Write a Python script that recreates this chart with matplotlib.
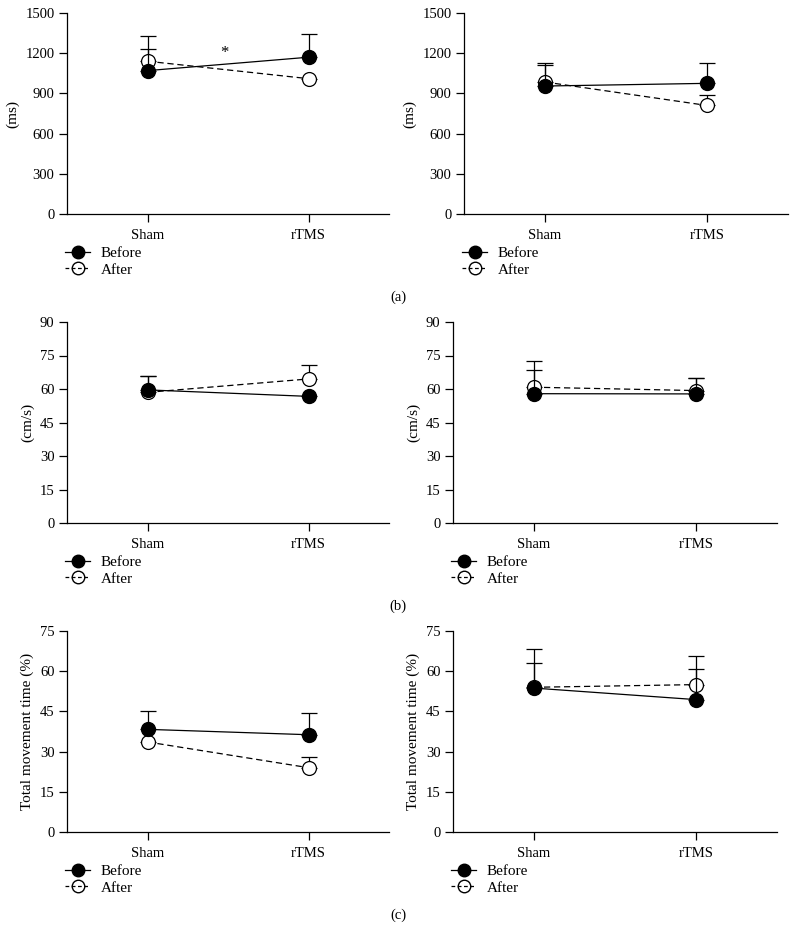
import numpy as np
import matplotlib
matplotlib.use("Agg")
import matplotlib.pyplot as plt
from matplotlib.lines import Line2D

plt.rcParams['font.family'] = ['Liberation Serif', 'DejaVu Serif']

# -------------------------
# Data
# -------------------------
groups = ["Sham", "rTMS"]

# (a) left / right  -- ms
a_left_before = [1070, 1170]
a_left_before_err = [165, 175]
a_left_after = [1140, 1010]
a_left_after_err = [190, np.nan]

a_right_before = [955, 975]
a_right_before_err = [175, 150]
a_right_after = [985, 810]
a_right_after_err = [130, 75]

# (b) left / right  -- cm/s
b_left_before = [59.6, 56.7]
b_left_before_err = [6.2, np.nan]
b_left_after = [58.5, 64.5]
b_left_after_err = [7.3, 6.4]

b_right_before = [57.9, 57.8]
b_right_before_err = [10.5, 7.1]
b_right_after = [60.8, 59.3]
b_right_after_err = [11.6, 5.6]

# (c) left / right  -- % total movement time
c_left_before = [38.3, 36.3]
c_left_before_err = [6.9, 8.0]
c_left_after = [33.6, 24.0]
c_left_after_err = [np.nan, 4.0]

c_right_before = [53.7, 49.4]
c_right_before_err = [14.4, 16.3]
c_right_after = [54.0, 55.0]
c_right_after_err = [9.1, 5.7]

# -------------------------
# Figure layout (pixel based)
# -------------------------
W, H = 797, 930
fig = plt.figure(figsize=(W / 100, H / 100), dpi=100)

DASH = (0, (5, 3))
MS = 10


def px_axes(left, top, right, bottom):
    return fig.add_axes([left / W, 1 - bottom / H, (right - left) / W, (bottom - top) / H])


def draw_panel(ax, before, before_err, after, after_err, ymax, step, ylabel):
    x = np.arange(len(groups))
    zero = np.zeros(len(groups))

    ax.errorbar(x, after, yerr=[zero, after_err], color='black', linestyle=DASH,
                linewidth=0.9, marker='o', markersize=MS, markerfacecolor='white',
                markeredgecolor='black', markeredgewidth=0.9, capsize=5.5,
                elinewidth=0.9, capthick=0.9, zorder=2)
    ax.errorbar(x, before, yerr=[zero, before_err], color='black', linestyle='-',
                linewidth=0.9, marker='o', markersize=MS, markerfacecolor='black',
                markeredgecolor='black', capsize=5.5, elinewidth=0.9, capthick=0.9,
                zorder=3)

    ax.set_xlim(-0.5, 1.5)
    ax.set_ylim(0, ymax)
    ax.set_yticks(np.arange(0, ymax + step / 2, step))
    ax.set_xticks(x)
    ax.set_xticklabels(groups)
    ax.set_ylabel(ylabel, fontsize=11)

    for s in ['top', 'right']:
        ax.spines[s].set_visible(False)
    ax.spines['left'].set_linewidth(0.9)
    ax.spines['bottom'].set_linewidth(0.9)
    ax.tick_params(direction='out', length=5.5, width=0.9, labelsize=10.5)
    ax.tick_params(axis='x', pad=5)

    handles = [
        Line2D([], [], color='black', linestyle='-', linewidth=0.9, marker='o',
               markersize=MS - 1, markerfacecolor='black'),
        Line2D([], [], color='black', linestyle=(0, (3, 2)), linewidth=0.9, marker='o',
               markersize=MS - 1, markerfacecolor='none'),
    ]
    ax.legend(handles, ['Before', 'After'], loc='upper left',
              bbox_to_anchor=(-0.005, -0.16), frameon=False, fontsize=11,
              handlelength=1.6, handletextpad=0.7, labelspacing=0.2,
              borderaxespad=0, borderpad=0)


ax_al = px_axes(67, 13, 389, 214)
ax_ar = px_axes(464, 13, 788, 214)
ax_bl = px_axes(67, 322, 389, 523)
ax_br = px_axes(453, 322, 777, 523)
ax_cl = px_axes(67, 631, 389, 832)
ax_cr = px_axes(453, 631, 777, 832)

draw_panel(ax_al, a_left_before, a_left_before_err, a_left_after, a_left_after_err,
           1500, 300, "(ms)")
draw_panel(ax_ar, a_right_before, a_right_before_err, a_right_after, a_right_after_err,
           1500, 300, "(ms)")
draw_panel(ax_bl, b_left_before, b_left_before_err, b_left_after, b_left_after_err,
           90, 15, "(cm/s)")
draw_panel(ax_br, b_right_before, b_right_before_err, b_right_after, b_right_after_err,
           90, 15, "(cm/s)")
draw_panel(ax_cl, c_left_before, c_left_before_err, c_left_after, c_left_after_err,
           75, 15, "Total movement time (%)")
draw_panel(ax_cr, c_right_before, c_right_before_err, c_right_after, c_right_after_err,
           75, 15, "Total movement time (%)")

# significance marker
ax_al.text(0.48, 1200, "*", ha='center', va='center', fontsize=12)

# panel letters
fig.text(398 / W, 1 - 297 / H, "(a)", ha='center', va='center', fontsize=10.5)
fig.text(398 / W, 1 - 606 / H, "(b)", ha='center', va='center', fontsize=10.5)
fig.text(398 / W, 1 - 915 / H, "(c)", ha='center', va='center', fontsize=10.5)

fig.savefig("out.png", dpi=100, facecolor='white')
